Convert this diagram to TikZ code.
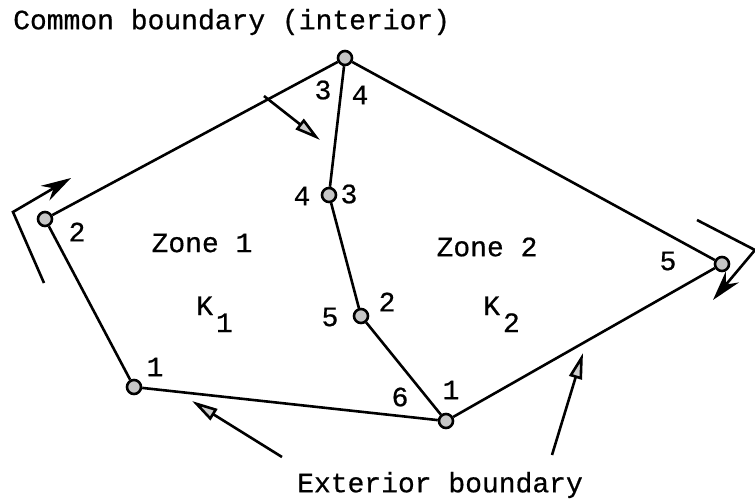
\documentclass[tikz,border=0pt]{standalone}
\usepackage{fontspec}
\newfontfamily\plotfont{Liberation Mono}[FakeBold=0.6]
\usetikzlibrary{arrows.meta}

\begin{document}
\begin{tikzpicture}[x=1pt, y=-1pt,
    vertex/.style={circle, draw, line width=2.6pt, fill=gray!45, inner sep=0pt,
      minimum size=14pt},
    edge/.style={line width=2.6pt},
    txt/.style={font=\plotfont\fontsize{28}{30}\selectfont, inner sep=0pt},
    num/.style={font=\plotfont\fontsize{28}{30}\selectfont, inner sep=0pt},
    pointer/.style={line width=2.6pt, -{Triangle[length=26pt 0, width=13pt 0, fill=gray!40]}},
    flow/.style={line width=2.6pt, -{Stealth[length=30pt 0, width=17pt 0]}}
  ]
    \useasboundingbox (0,0) rectangle (755,499);

    % vertices
    \node[vertex] (top) at (345,58) {};
    \node[vertex] (left) at (45,219) {};
    \node[vertex] (lowleft) at (134,387) {};
    \node[vertex] (bottom) at (446,421) {};
    \node[vertex] (right) at (722,264) {};
    \node[vertex] (mida) at (329,195) {};
    \node[vertex] (midb) at (361,316) {};

    % exterior and common boundary
    \draw[edge] (top) -- (left) -- (lowleft) -- (bottom) -- (right) -- (top);
    \draw[edge] (top) -- (mida) -- (midb) -- (bottom);

    % local numbering
    \node[num] (ta) at (323,90) {3};
    \node[num] (tb) at (360,95) {4};
    \node[num] (ma) at (302,196) {4};
    \node[num] (mb) at (349,194) {3};
    \node[num] (la) at (77,232) {2};
    \node[num] (lla) at (155,367) {1};
    \node[num] (ba) at (400,397) {6};
    \node[num] (bb) at (451,390) {1};
    \node[num] (mc) at (330,317) {5};
    \node[num] (md) at (387,302) {2};
    \node[num] (ra) at (668,261) {5};

    % zones
    \node[txt] (zone1) at (202,243) {Zone 1};
    \node[txt] (zone2) at (487,247) {Zone 2};
    \node[txt, anchor=base west] (k1) at (196,315) {K\kern3pt\raisebox{-17pt}{1}};
    \node[txt, anchor=base west] (k2) at (483,315) {K\kern3pt\raisebox{-17pt}{2}};

    % captions
    \node[txt, anchor=west] (common) at (13,22) {Common boundary (interior)};
    \node[txt, anchor=west] (exterior) at (297,485) {Exterior boundary};

    \coordinate (c0) at (264,96);
    \coordinate (c1) at (320,140);
    \coordinate (e0) at (282,457);
    \coordinate (e1) at (192,401);
    \coordinate (f0) at (552,455);
    \coordinate (f1) at (583,353);
    \draw[pointer] (c0) -- (c1);
    \draw[pointer] (e0) -- (e1);
    \draw[pointer] (f0) -- (f1);

    % direction of travel
    \coordinate (l0) at (44,283);
    \coordinate (l1) at (13,212);
    \coordinate (l2) at (71,178);
    \coordinate (r0) at (697,220);
    \coordinate (r1) at (755,250);
    \coordinate (r2) at (713,300);
    \draw[flow] (l0) -- (l1) -- (l2);
    \draw[flow] (r0) -- (r1) -- (r2);
\end{tikzpicture}
\end{document}
